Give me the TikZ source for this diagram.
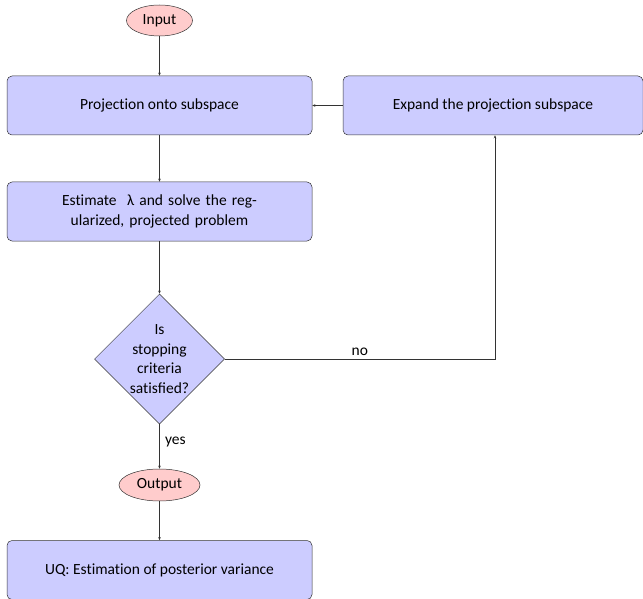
\documentclass[tikz,border=0pt]{standalone}
\usepackage{fontspec}
\setmainfont{Carlito}
\usetikzlibrary{shapes.geometric,arrows.meta}
\newcommand\tI{t\kern0pt i}
\begin{document}
\begin{tikzpicture}[x=1pt,y=-1pt,
  every node/.style={font=\fontsize{15.5}{19.5}\selectfont},
  procbox/.style={draw=black!80,fill=blue!20,rounded corners=5pt,minimum width=305pt,minimum height=59pt,align=center,line width=0.5pt},
  termnode/.style={draw=black!80,fill=red!20,ellipse,line width=0.5pt,inner sep=1pt},
  decbox/.style={draw=black!80,fill=blue!20,diamond,minimum width=130pt,minimum height=130pt,align=center,inner sep=0pt,line width=0.5pt},
  conn/.style={draw=black!80,line width=0.5pt,-{Stealth[length=3pt,width=2.5pt]}}]
\useasboundingbox (0,0) rectangle (643,599);
\node[termnode,minimum width=66pt,minimum height=31pt] (in) at (159.5,20.5) {Input};
\node[procbox] (p1) at (159.5,105.5) {Projec\tI on onto subspace};
\node[procbox,minimum width=300pt] (ex) at (493,105.5) {Expand the projec\tI on subspace};
\node[procbox,text width=250pt] (p2) at (159.5,211.5) {Es\tI mate~~λ and solve the reg-\\ularized, projected problem};
\node[decbox] (d) at (159.5,359) {Is\\stopping\\criteria\\sa\tI sfied?};
\node[termnode,minimum width=81pt,minimum height=32pt] (out) at (159.5,485) {Output};
\node[procbox] (uq) at (159.5,570) {UQ: Es\tI ma\tI on of posterior variance};
\coordinate (c1) at (495,359);
\draw[conn] (in) -- (p1);
\draw[conn] (p1) -- (p2);
\draw[conn] (p2) -- (d);
\draw[conn] (d) -- node[right,pos=0.4,xshift=2pt] {yes} (out);
\draw[conn] (out) -- (uq);
\draw[conn] (d.east) -- node[above,pos=0.5] {no} (c1) -- (c1 |- ex.south);
\draw[conn] (ex) -- (p1);
\end{tikzpicture}
\end{document}
